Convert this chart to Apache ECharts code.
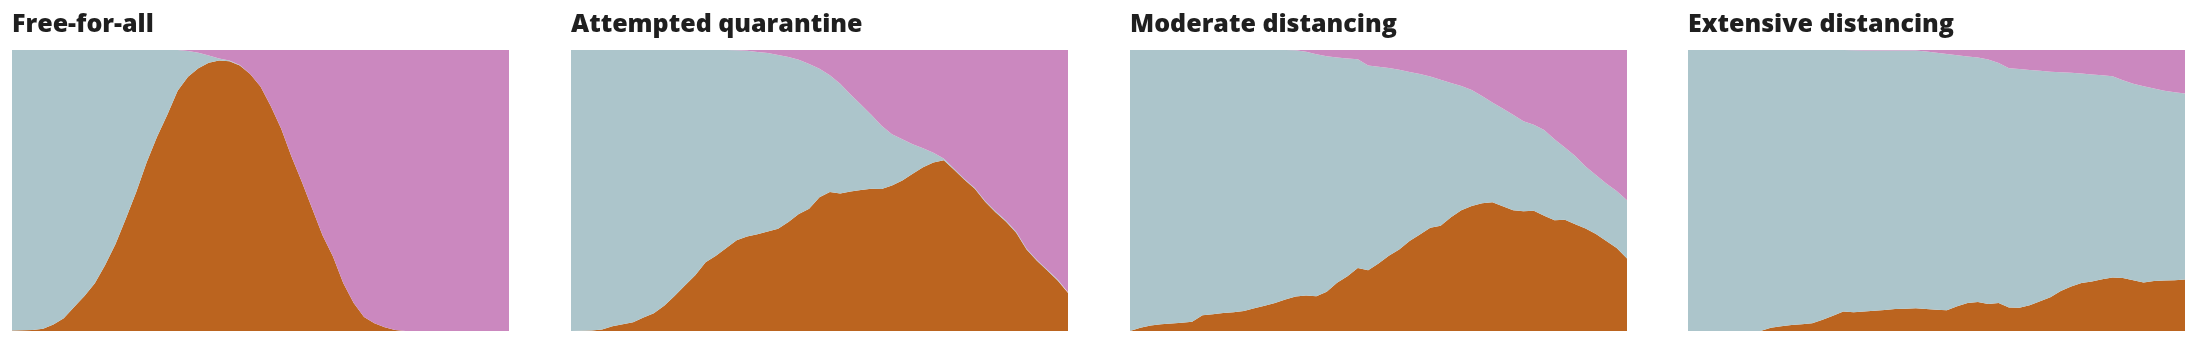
<!DOCTYPE html>
<html>
<head>
<meta charset="utf-8">
<script src="https://cdn.jsdelivr.net/npm/echarts@6/dist/echarts.min.js"></script>
<style>
html,body{margin:0;padding:0;background:#fff;}
#chart{width:2201px;height:344px;}
</style>
</head>
<body>
<div id="chart"></div>
<script>
// Simulation steps (x axis)
const steps = [0,1,2,3,4,5,6,7,8,9,10,11,12,13,14,15,16,17,18,19,20,21,22,23,24,25,26,27,28,29,30,31,32,33,34,35,36,37,38,39,40,41,42,43,44,45,46,47,48];

const titles = ["Free-for-all", "Attempted quarantine", "Moderate distancing", "Extensive distancing"];

// Share of population (%) — sick (bottom band)
const sick1 = [0.2,0.3,0.4,0.8,2.3,4.5,8.5,12.5,17,23.5,31,40,49.5,60,69,77,85.5,90.5,93.5,95.5,96.3,96,94.5,91.5,87,80,72,62,53,43.5,34,26.5,17,10,5,2.8,1.3,0.4,0,0,0,0,0,0,0,0,0,0,0];
const sick2 = [0,0.1,0.2,0.5,1.7,2.4,3.1,4.8,6.3,9,12.5,16.2,19.8,24.5,26.8,29.5,32.3,33.6,34.4,35.4,36.4,38.8,41.6,43.5,47.6,49.5,48.9,49.6,50.2,50.6,50.5,51.8,53.6,56,58.3,60,60.8,57.4,53.8,50.6,46,42.3,39,35,29,25,21.5,18,13.5];
const sick3 = [0,1.2,2.0,2.4,2.7,2.9,3.3,5.6,6.0,6.4,6.7,7.1,8.1,9.0,10,11.2,12.3,12.6,12.4,14.0,17.2,19.5,22.4,21.6,24,26.8,29,32,34.3,36.7,37.5,40.5,43,44.5,45.5,45.8,44.4,43,42.6,42.8,41,39.4,39.6,38,36.5,34.5,32,29.5,25.8];
const sick4 = [0,0,0,0,0,0,0,0,1.2,1.7,2.1,2.4,2.8,4.0,5.4,6.9,6.7,6.9,7.2,7.5,7.8,7.9,8.1,7.8,7.6,7.4,8.8,10,10.3,9.6,10,8.4,8.3,9.2,10.6,12,14.2,15.8,17.1,17.6,18.4,19,18.9,18.1,17.3,17.8,18,18.1,18.3];

// Share of population (%) — recovered (top band)
const recovered1 = [0,0,0,0,0,0,0,0,0,0,0,0,0,0,0,0,0,0.4,1,2,3,3.7,5.3,8.5,13,20,28,38,47,56.5,66,73.5,83,90,95,97.2,98.7,99.6,100,100,100,100,100,100,100,100,100,100,100];
const recovered2 = [0,0,0,0,0,0,0,0,0,0,0,0,0,0,0,0,0.1,0.3,0.7,1.1,1.8,2.5,3.5,5,6.7,9,12,15.8,19.4,23,27,30,31.8,33.5,35,36.6,38.6,42.3,45.9,49.1,53.7,57.4,60.7,64.7,70.7,74.7,78.2,81.7,86.2];
const recovered3 = [0,0,0,0,0,0,0,0,0,0,0,0,0,0,0,0,0.1,0.6,1.5,2.2,2.7,3,3.3,5.5,6,6.4,7,7.8,8.5,9.4,10.6,11.7,12.8,14.2,16.4,18.7,20.8,23,25.4,26.6,28.5,31.8,34.7,37.7,41.5,44.5,47.5,50.2,53.5];
const recovered4 = [0,0,0,0,0,0,0,0,0,0,0,0,0,0,0,0,0.1,0.2,0.2,0.2,0.2,0.2,0.2,0.5,1,1.4,1.9,2.3,2.7,3.4,4.6,6.5,6.8,7.1,7.4,7.7,7.9,8.1,8.4,8.7,9,9.3,10.8,12,12.9,13.7,14.5,15,15.5];

const sickAll = [sick1, sick2, sick3, sick4];
const recAll = [recovered1, recovered2, recovered3, recovered4];

// healthy = remainder of population
const healthyAll = sickAll.map((s, k) => s.map((v, i) => Math.max(0, +(100 - v - recAll[k][i]).toFixed(2))));

const COLORS = { sick: '#bb641f', healthy: '#acc5cb', recovered: '#cb88bf' };
const lefts = [12, 571, 1130, 1688];
const plotW = 497, plotTop = 50, plotH = 281;

const grid = [], xAxis = [], yAxis = [], series = [], title = [];
for (let k = 0; k < 4; k++) {
  grid.push({ left: lefts[k], top: plotTop, width: plotW, height: plotH, containLabel: false });
  xAxis.push({ type: 'category', gridIndex: k, data: steps, boundaryGap: false, show: false });
  yAxis.push({ type: 'value', gridIndex: k, min: 0, max: 100, show: false, splitLine: { show: false } });
  title.push({
    text: titles[k], left: lefts[k], top: 12, padding: 0,
    textStyle: { fontFamily: 'Open Sans', fontWeight: 800, fontSize: 25, color: '#1f1f1f' }
  });
  const bands = [['Sick', sickAll[k], COLORS.sick], ['Healthy', healthyAll[k], COLORS.healthy], ['Recovered', recAll[k], COLORS.recovered]];
  bands.forEach(([name, data, color]) => {
    series.push({
      name, type: 'line', xAxisIndex: k, yAxisIndex: k, stack: 'p' + k,
      data, symbol: 'none', smooth: false, silent: true,
      lineStyle: { width: 0, color }, itemStyle: { color },
      areaStyle: { color, opacity: 1 }
    });
  });
}

const chart = echarts.init(document.getElementById('chart'), null, { renderer: 'canvas' });
chart.setOption({ animation: false, backgroundColor: '#ffffff', title, grid, xAxis, yAxis, series, tooltip: { show: false } });
</script>
</body>
</html>
